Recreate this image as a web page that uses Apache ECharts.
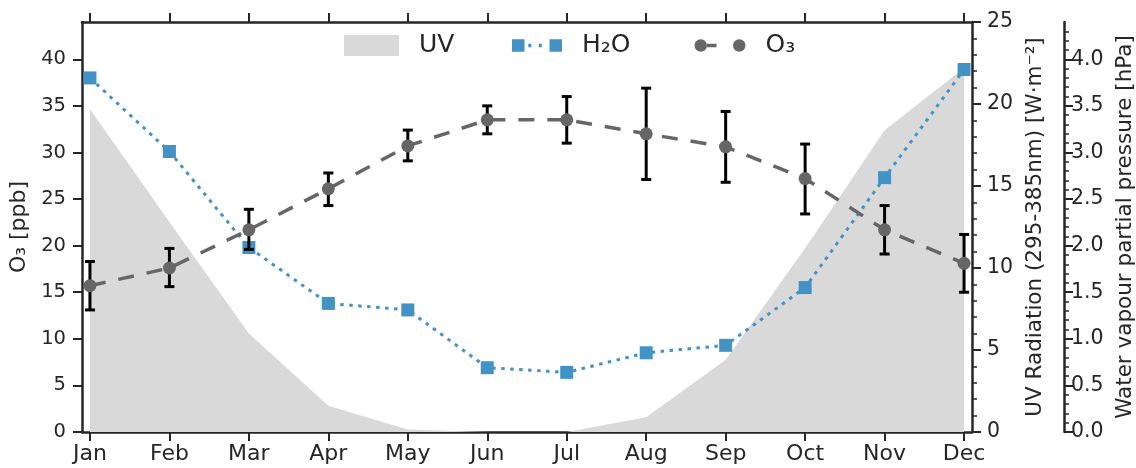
<!DOCTYPE html>
<html>
<head>
<meta charset="utf-8">
<script src="https://cdn.jsdelivr.net/npm/echarts@6/dist/echarts.min.js"></script>
<style>
  html, body { margin: 0; padding: 0; background: #ffffff; }
  #chart { width: 1136px; height: 468px; }
</style>
</head>
<body>
<div id="chart"></div>
<script>
// ---- data ----
const months = ['Jan', 'Feb', 'Mar', 'Apr', 'May', 'Jun', 'Jul', 'Aug', 'Sep', 'Oct', 'Nov', 'Dec'];
const uv = [19.7, 12.8, 6.0, 1.6, 0.15, 0, 0, 0.9, 4.4, 11.2, 18.4, 22.2];
const h2o = [3.80, 3.01, 1.98, 1.38, 1.31, 0.69, 0.64, 0.85, 0.93, 1.55, 2.73, 3.89];
const o3 = [15.7, 17.6, 21.7, 26.1, 30.7, 33.5, 33.5, 32.0, 30.6, 27.2, 21.7, 18.1];
const o3Low = [13.1, 15.6, 19.6, 24.3, 29.1, 32.0, 31.0, 27.1, 26.8, 23.4, 19.1, 15.0];
const o3High = [18.3, 19.7, 23.9, 27.8, 32.4, 35.0, 36.0, 36.9, 34.4, 30.9, 24.3, 21.2];
const o3Ticks = [0, 5, 10, 15, 20, 25, 30, 35, 40];
const h2oTicks = [0, 0.5, 1.0, 1.5, 2.0, 2.5, 3.0, 3.5, 4.0];
const monthIdx = months.map((m, i) => i);

const FONT = 'DejaVu Sans';
const INK = '#262626';
const GREY_AREA = '#d9d9d9';
const BLUE = '#4292c6';
const O3C = '#666666';

const chart = echarts.init(document.getElementById('chart'));

const axisLineStyle = { onZero: false, lineStyle: { color: INK, width: 2.5 } };
const tickStyle = { lineStyle: { color: INK, width: 2 } };

const option = {
  animation: false,
  backgroundColor: '#ffffff',
  textStyle: { fontFamily: FONT },
  grid: { left: 82, right: 164, top: 22, bottom: 36, containLabel: false, outerBoundsMode: 'none' },
  legend: [
    {
      left: 344, top: 32.5, padding: 0, itemWidth: 55, itemHeight: 21,
      data: [{ name: 'UV', icon: 'rect' }],
      textStyle: { fontFamily: FONT, fontSize: 25, lineHeight: 26, color: INK, padding: [0, 0, 0, 15] },
      selectedMode: false
    },
    {
      left: 512, top: 32.5, padding: 0, itemWidth: 50, itemHeight: 12.5,
      data: [{ name: 'H₂O', icon: 'path://M0,0 H12.5 V12.5 H0 Z M16.3,4.5 H19.3 V8 H16.3 Z M26.8,4.5 H29.8 V8 H26.8 Z M37.5,0 H50 V12.5 H37.5 Z', itemStyle: { color: BLUE } }],
      textStyle: { fontFamily: FONT, fontSize: 25, lineHeight: 26, color: INK, padding: [0, 0, 0, 15] },
      selectedMode: false
    },
    {
      left: 694.5, top: 32.5, padding: 0, itemWidth: 51, itemHeight: 12.5,
      data: [{ name: 'O₃', icon: 'path://M0,6.25 A6.25,6.25 0 1,1 12.5,6.25 A6.25,6.25 0 1,1 0,6.25 Z M12.5,4.5 H22 V8 H12.5 Z M38.5,6.25 A6.25,6.25 0 1,1 51,6.25 A6.25,6.25 0 1,1 38.5,6.25 Z', itemStyle: { color: O3C } }],
      textStyle: { fontFamily: FONT, fontSize: 25, lineHeight: 26, color: INK, padding: [0, 0, 0, 15] },
      selectedMode: false
    }
  ],
  xAxis: [
    {
      type: 'value', position: 'bottom', min: -0.1, max: 11.1,
      axisLine: axisLineStyle,
      axisTick: { show: true, length: 9, customValues: monthIdx, ...tickStyle },
      axisLabel: { customValues: monthIdx, formatter: v => months[Math.round(v)], color: INK, fontFamily: FONT, fontSize: 22, margin: 11 },
      splitLine: { show: false }
    },
    {
      type: 'value', position: 'top', min: -0.1, max: 11.1,
      axisLine: axisLineStyle,
      axisTick: { show: true, length: 9, customValues: monthIdx, ...tickStyle },
      axisLabel: { show: false },
      splitLine: { show: false }
    }
  ],
  yAxis: [
    {
      type: 'value', position: 'left', min: 0, max: 44,
      name: 'O₃ [ppb]', nameLocation: 'middle', nameRotate: 90, nameGap: 46,
      nameTextStyle: { fontFamily: FONT, fontSize: 22, color: INK },
      axisLine: { show: true, ...axisLineStyle },
      axisTick: { show: true, length: 9, customValues: o3Ticks, ...tickStyle },
      axisLabel: { customValues: o3Ticks, color: INK, fontFamily: FONT, fontSize: 19.5, margin: 16 },
      splitLine: { show: false }
    },
    {
      type: 'value', position: 'right', min: 0, max: 25, interval: 5,
      name: 'UV Radiation (295-385nm) [W·m⁻²]', nameLocation: 'middle', nameRotate: 90, nameGap: 50,
      nameTextStyle: { fontFamily: FONT, fontSize: 21.5, color: INK },
      axisLine: { show: true, ...axisLineStyle },
      axisTick: { show: true, length: 9, ...tickStyle },
      minorTick: { show: true, splitNumber: 5, length: 5, lineStyle: { color: INK, width: 1.5 } },
      axisLabel: { color: INK, fontFamily: FONT, fontSize: 20.5, margin: 15 },
      splitLine: { show: false }, minorSplitLine: { show: false }
    },
    {
      type: 'value', position: 'right', offset: 92, min: 0, max: 4.4, interval: 0.5,
      name: 'Water vapour partial pressure [hPa]', nameLocation: 'middle', nameRotate: 90, nameGap: 50,
      nameTextStyle: { fontFamily: FONT, fontSize: 21.5, color: INK },
      axisLine: { show: true, ...axisLineStyle },
      axisTick: { show: true, length: 9, customValues: h2oTicks, ...tickStyle },
      minorTick: { show: true, splitNumber: 5, length: 5, lineStyle: { color: INK, width: 1.5 } },
      axisLabel: { customValues: h2oTicks, formatter: v => v.toFixed(1), color: INK, fontFamily: FONT, fontSize: 20.5, margin: 7 },
      splitLine: { show: false }, minorSplitLine: { show: false }
    }
  ],
  series: [
    {
      name: 'UV', type: 'line', xAxisIndex: 0, yAxisIndex: 1,
      data: monthIdx.map(i => [i, uv[i]]),
      symbol: 'none', color: GREY_AREA,
      lineStyle: { width: 0, color: GREY_AREA },
      areaStyle: { color: GREY_AREA, opacity: 1 },
      z: 1, silent: true
    },
    {
      name: 'H₂O', type: 'line', xAxisIndex: 0, yAxisIndex: 2,
      data: monthIdx.map(i => [i, h2o[i]]),
      symbol: 'rect', symbolSize: 13, color: BLUE,
      itemStyle: { color: BLUE },
      lineStyle: { color: BLUE, width: 3, type: [3.5, 5.5] },
      z: 3
    },
    {
      name: 'O₃ err', type: 'custom', xAxisIndex: 0, yAxisIndex: 0,
      data: monthIdx.map(i => [i, o3Low[i], o3High[i]]),
      encode: { x: 0, y: [1, 2] },
      renderItem: function (params, api) {
        const x = api.value(0);
        const lo = api.coord([x, api.value(1)]);
        const hi = api.coord([x, api.value(2)]);
        const cap = 5;
        const st = { stroke: '#000000', lineWidth: 3 };
        return {
          type: 'group',
          children: [
            { type: 'line', shape: { x1: lo[0], y1: lo[1], x2: hi[0], y2: hi[1] }, style: st },
            { type: 'line', shape: { x1: lo[0] - cap, y1: lo[1], x2: lo[0] + cap, y2: lo[1] }, style: st },
            { type: 'line', shape: { x1: hi[0] - cap, y1: hi[1], x2: hi[0] + cap, y2: hi[1] }, style: st }
          ]
        };
      },
      z: 4, silent: true
    },
    {
      name: 'O₃', type: 'line', xAxisIndex: 0, yAxisIndex: 0,
      data: monthIdx.map(i => [i, o3[i]]),
      symbol: 'circle', symbolSize: 13, color: O3C,
      itemStyle: { color: O3C },
      lineStyle: { color: O3C, width: 3.5, type: [16, 13] },
      z: 5
    }
  ]
};

chart.setOption(option);
</script>
</body>
</html>
